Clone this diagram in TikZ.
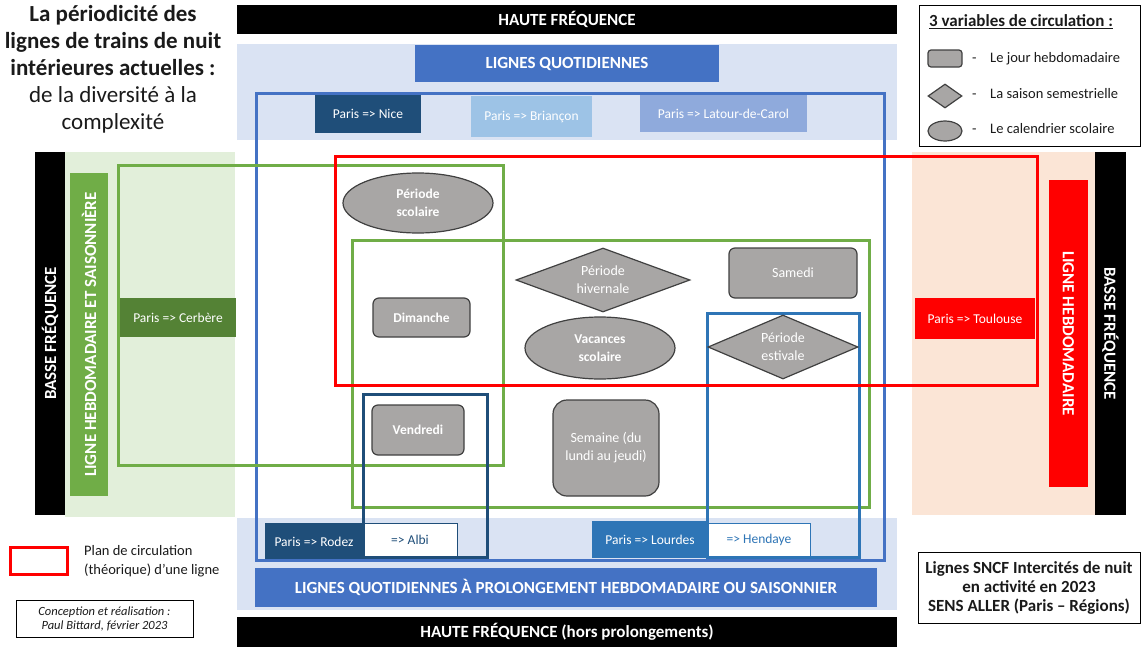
\documentclass[tikz,border=0pt]{standalone}
\usepackage{fontspec}
\setmainfont{Carlito}
\usetikzlibrary{shapes.geometric}
\definecolor{qblue}{HTML}{4472C4}
\definecolor{navy}{HTML}{1F4E79}
\definecolor{midblue}{HTML}{2E75B6}
\definecolor{paleblue}{HTML}{DAE3F3}
\definecolor{brianc}{HTML}{9DC3E6}
\definecolor{latour}{HTML}{8FAADC}
\definecolor{lgreen}{HTML}{70AD47}
\definecolor{dgreen}{HTML}{548235}
\definecolor{palegreen}{HTML}{E2EFDA}
\definecolor{peach}{HTML}{FBE5D6}
\definecolor{shapefill}{HTML}{A8A6A5}
\definecolor{shapeline}{HTML}{404040}
\definecolor{txtgray}{HTML}{1A1A1A}
\newcommand{\fs}[2]{\fontsize{#1}{#2}\selectfont}
\begin{document}
\begin{tikzpicture}[x=1pt,y=-1pt,
  bar/.style={fill=black,text=white,inner sep=0,font=\fs{17}{19}\bfseries},
  band/.style={fill=qblue,text=white,inner sep=0,font=\fs{17}{19}\bfseries},
  route/.style={inner sep=0,text=white,font=\fs{13.5}{15}},
  vbar/.style={inner sep=0,text=white,font=\fs{17}{19}\bfseries},
  frame/.style={line width=3pt},
  var/.style={fill=shapefill,draw=shapeline,line width=1.2pt,text=white,inner sep=0,align=center,font=\fs{14}{18}},
  dayrect/.style={var,rectangle,rounded corners=6pt},
  season/.style={var,diamond,aspect=2.7},
  school/.style={var,ellipse},
  legtxt/.style={anchor=west,inner sep=0,text height=10pt,text depth=3pt,text=txtgray,font=\fs{14.5}{16}}
]
\useasboundingbox (0,0) rectangle (1144,648);

% ---- pale backgrounds
\fill[paleblue] (237,44) rectangle (897,140);
\fill[paleblue] (237,518) rectangle (897,610);
\fill[palegreen] (65,152) rectangle (235,517);
\fill[peach] (912,152) rectangle (1095,515);

% ---- frequency bars
\node[bar,minimum width=660,minimum height=29] (hftop) at (567,19.5) {HAUTE FRÉQUENCE};
\node[bar,minimum width=660,minimum height=30] (hfbot) at (567,632) {HAUTE FRÉQUENCE (hors prolongements)};
\node[bar,minimum width=363,minimum height=30,rotate=90] (bfleft) at (50,333.5) {BASSE FRÉQUENCE};
\node[bar,minimum width=363,minimum height=31,rotate=-90] (bfright) at (1110.5,333.5) {BASSE FRÉQUENCE};

% ---- category bands
\node[band,minimum width=304,minimum height=37] (lq) at (567,63.5) {LIGNES QUOTIDIENNES};
\node[band,minimum width=622,minimum height=39] (lqp) at (566,587.5) {LIGNES QUOTIDIENNES À PROLONGEMENT HEBDOMADAIRE OU SAISONNIER};
\node[vbar,fill=lgreen,minimum width=323,minimum height=38,rotate=90] (lhs) at (89,334.5) {LIGNE HEBDOMADAIRE ET SAISONNIÈRE};
\node[vbar,fill=red,minimum width=307,minimum height=39,rotate=-90] (lh) at (1068.5,333.5) {LIGNE HEBDOMADAIRE};

% ---- train lines
\node[route,fill=navy,minimum width=106,minimum height=38] (nice) at (368,114) {Paris => Nice};
\node[route,fill=brianc,minimum width=121,minimum height=41] (brianc) at (531.5,116.5) {Paris => Briançon};
\node[route,fill=latour,minimum width=167,minimum height=37] (latour) at (723.5,113.5) {Paris => Latour-de-Carol};
\node[route,fill=dgreen,minimum width=116,minimum height=39] (cerbere) at (178,317.5) {Paris => Cerbère};
\node[route,fill=red,minimum width=120,minimum height=41] (toulouse) at (975,318.5) {Paris => Toulouse};
\node[route,fill=navy,minimum width=98,minimum height=37] (rodez) at (314,541.5) {Paris => Rodez};
\node[route,fill=white,draw=navy,line width=0.8pt,text=navy,minimum width=94,minimum height=34] (albi) at (410,540) {=> Albi};
\node[route,fill=midblue,minimum width=116,minimum height=37] (lourdes) at (650,539.5) {Paris => Lourdes};
\node[route,fill=white,draw=midblue,line width=0.8pt,text=midblue,minimum width=102,minimum height=34] (hendaye) at (759,540) {=> Hendaye};

% ---- circulation plans
\draw[frame,draw=qblue] (256,93) rectangle (884,560);
\draw[frame,draw=lgreen] (118,165) rectangle (503,465);
\draw[frame,draw=lgreen] (352,240) rectangle (869,507);
\draw[frame,draw=navy] (363,394) rectangle (487,557);
\draw[frame,draw=midblue] (707,313) rectangle (859,557);
\draw[frame,draw=red] (335,156) rectangle (1037,385);

% ---- circulation variables
\node[school,minimum width=150,minimum height=60,font=\fs{13.5}{18}\bfseries] (pscol) at (418,203) {Période\\scolaire};
\node[dayrect,minimum width=97,minimum height=39,font=\fs{13.5}{18}\bfseries] (dim) at (421.5,317.5) {Dimanche};
\node[season,minimum width=174,minimum height=64] (phiv) at (603,280) {Période\\hivernale};
\node[dayrect,minimum width=128,minimum height=50] (sam) at (793,273) {Samedi};
\node[school,minimum width=150,minimum height=62,font=\fs{13.5}{18}\bfseries] (vac) at (600,348) {Vacances\\scolaire};
\node[season,minimum width=150,minimum height=64] (pest) at (783,347) {Période\\estivale};
\node[dayrect,minimum width=92,minimum height=50,font=\fs{13.5}{18}\bfseries] (ven) at (418,430) {Vendredi};
\node[dayrect,rounded corners=14pt,minimum width=106,minimum height=96] (sem) at (606,448) {Semaine (du\\lundi au jeudi)};

% ---- title
\node[align=center,inner sep=0,text=txtgray,font=\fs{23}{27}] (title) at (113,69)
  {\bfseries La périodicité des\\\bfseries lignes de trains de nuit\\\bfseries intérieures actuelles :\\de la diversité à la\\complexité};

% ---- legend of variables
\node[draw=black,line width=1pt,minimum width=221,minimum height=141,inner sep=0] (legend) at (1029.5,75.5) {};
\node[anchor=west,inner sep=0,text=txtgray,font=\fs{17}{19}\bfseries] (legtitle) at (929,22) {\underline{3 variables de circulation :}};
\node[var,rectangle,rounded corners=3pt,minimum width=34,minimum height=17] (icday) at (945,58.5) {};
\node[var,diamond,aspect=1.4,minimum width=34,minimum height=24] (icseason) at (945,96) {};
\node[var,ellipse,minimum width=34,minimum height=20] (icschool) at (945,131) {};
\node[legtxt] (d1) at (972,59) {-};
\node[legtxt] (d2) at (972,95) {-};
\node[legtxt] (d3) at (972,130) {-};
\node[legtxt] (l1) at (990,59) {Le jour hebdomadaire};
\node[legtxt] (l2) at (990,95) {La saison semestrielle};
\node[legtxt] (l3) at (990,130) {Le calendrier scolaire};

% ---- legend of plans and credits
\node[draw=red,line width=3pt,minimum width=57,minimum height=27,inner sep=0] (legplan) at (38.5,560.5) {};
\node[anchor=west,align=left,inner sep=0,text=txtgray,font=\fs{14.5}{19}] (legplantxt) at (84,561) {Plan de circulation\\(théorique) d’une ligne};
\node[draw=black,line width=0.8pt,minimum width=177,minimum height=37,inner sep=0,align=center,font=\fs{12.5}{14}\itshape,text=txtgray] (credit) at (104.5,618.5) {Conception et réalisation :\\Paul Bittard, février 2023};
\node[draw=black,line width=1pt,minimum width=222,minimum height=71,inner sep=0,align=center,font=\fs{17}{19}\bfseries,text=txtgray] (scope) at (1029,587.5) {Lignes SNCF Intercités de nuit\\en activité en 2023\\SENS ALLER (Paris – Régions)};
\end{tikzpicture}
\end{document}
